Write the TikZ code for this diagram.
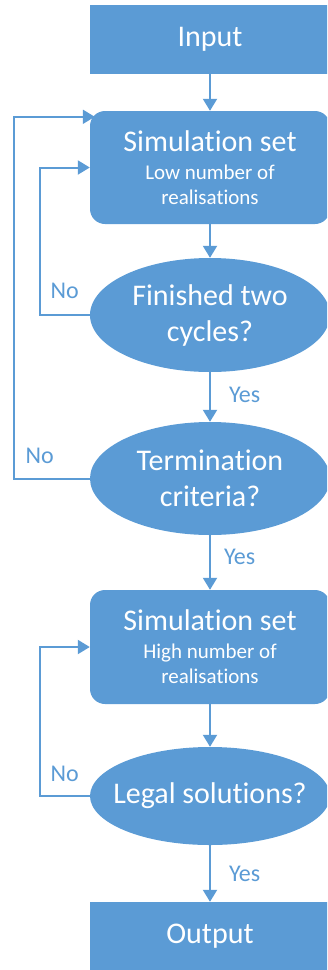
\documentclass[tikz,border=0pt]{standalone}
\usepackage{fontspec}
\setmainfont[Ligatures=NoCommon]{Carlito}
\usetikzlibrary{positioning}
\usetikzlibrary{calc}
\usetikzlibrary{shapes.geometric}
\usetikzlibrary{arrows.meta}
\definecolor{officeblue}{RGB}{91,155,213}

\begin{document}
\begin{tikzpicture}[x=1pt,y=1pt,
    box/.style={fill=officeblue,text=white,inner sep=0pt,minimum width=240pt,align=center,font=\fontsize{30}{36}\selectfont},
    simbox/.style={box,rounded corners=15pt,minimum height=113pt,font=\fontsize{30}{25}\selectfont},
    decision/.style={box,ellipse,inner xsep=-30pt},
    flow/.style={draw=officeblue,line width=2pt,-{Triangle[width=14pt,length=12pt]}},
    answer/.style={text=officeblue,inner sep=0pt,font=\fontsize{24}{28}\selectfont}]
  \useasboundingbox (0,0) rectangle (327,-970);
  \clip (0,0) rectangle (327,-970);
  \node (input) [box,minimum height=69pt] at (210,-39.5) {Input};
  \node (sim1) [simbox] at (210,-167.5) {Simulation set\\[3pt]\fontsize{21}{25}\selectfont Low number of\\\fontsize{21}{25}\selectfont realisations};
  \node (finished) [decision,minimum height=114pt] at (210,-315) {Finished two\\cycles?};
  \node (tcrit) [decision,minimum height=113pt] at (210,-478.5) {Termination\\criteria?};
  \node (sim2) [simbox,minimum height=114pt] at (210,-647) {Simulation set\\[3pt]\fontsize{21}{25}\selectfont High number of\\\fontsize{21}{25}\selectfont realisations};
  \node (legal) [decision,minimum height=98pt] at (210,-796) {Legal solutions?};
  \node (output) [box,minimum height=69pt] at (210,-936.5) {Output};
  % main line
  \draw [flow] (input) -- (sim1);
  \draw [flow] (sim1) -- (finished);
  \draw [flow] (finished) -- node [answer,right=18pt,pos=0.45] {Yes} (tcrit);
  \draw [flow] (tcrit) -- node [answer,right=13pt,pos=0.4] {Yes} (sim2);
  \draw [flow] (sim2) -- (legal);
  \draw [flow] (legal) -- node [answer,right=18pt] {Yes} (output);
  % loops back
  \draw [flow] (finished.west) -- node [answer,above=15pt] {No} ++(-50,0) |- (sim1.west);
  \draw [flow] (tcrit.west) -- node [answer,above=14pt,pos=0.66] {No} ++(-76,0) |- ($(sim1.north west)+(5,-6)$);
  \draw [flow] (legal.west) -- node [answer,above=13pt] {No} ++(-50,0) |- (sim2.west);
\end{tikzpicture}
\end{document}
